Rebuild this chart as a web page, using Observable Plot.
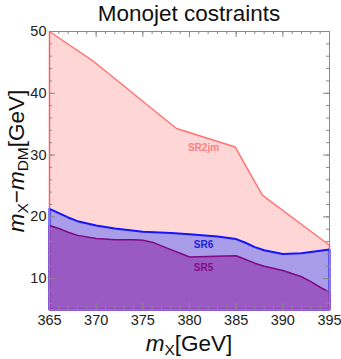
<!DOCTYPE html>
<html>
<head>
<meta charset="utf-8">
<script src="https://cdn.jsdelivr.net/npm/d3@7"></script>
<script src="https://cdn.jsdelivr.net/npm/@observablehq/plot@0.6"></script>
<style>
  html, body { margin: 0; padding: 0; background: #fff; }
  svg { display: block; }
</style>
</head>
<body>
<div id="chart"></div>
<script>
// ---- data ----
const sr2jmX = [365, 369.6, 378.6, 384.9, 387.8, 395];
const sr2jmY = [50, 45.3, 34.3, 31.3, 23.5, 15.4];

const sr6X = [365, 366, 367, 368, 370, 372, 375, 378, 380, 383, 385, 386, 387, 388, 390, 392, 395];
const sr6Y = [21.3, 20.6, 19.9, 19.3, 18.6, 18.1, 17.6, 17.4, 17.2, 16.8, 16.4, 15.8, 15.1, 14.6, 14.0, 14.1, 14.7];

const sr5X = [365, 366, 367, 368, 370, 372, 374, 375, 376, 377, 378, 379, 380, 383, 385, 386, 387, 388, 390, 392, 393, 394, 395];
const sr5Y = [18.6, 18.1, 17.5, 17.0, 16.5, 16.3, 16.3, 16.2, 15.9, 15.3, 14.7, 14.1, 13.5, 13.6, 13.7, 13.1, 12.5, 12.0, 11.3, 10.3, 9.5, 8.6, 7.8];

const regionLabels = ["SR2jm", "SR6", "SR5"];
const labelX = [381.5, 381.5, 381.5];
const labelY = [31.1, 15.4, 11.7];

const xDomain = [365, 395];
const yDomain = [5, 50];
const xMajor = [365, 370, 375, 380, 385, 390, 395];
const xMinor = d3.range(365, 396, 1);
const yMajor = [10, 20, 30, 40, 50];
const yMinor = d3.range(6, 51, 2);

const title = "Monojet costraints";

// ---- helpers ----
const pts = (xs, ys) => xs.map((x, i) => ({x, y: ys[i]}));
const closed = (xs, ys) => {
  const p = pts(xs, ys);
  return [{x: xs[0], y: yDomain[0]}, ...p, {x: xs[xs.length - 1], y: yDomain[0]}, {x: xs[0], y: yDomain[0]}];
};

const W = 341, H = 359;
const mT = 31, mR = 12, mB = 50, mL = 49;
const fh = H - mT - mB, fw = W - mL - mR;
const tickCol = "#8a8a8a";

const regions = [
  {xs: sr2jmX, ys: sr2jmY, fill: "#ffd6d6", stroke: "#ff7474", sw: 1.5},
  {xs: sr6X, ys: sr6Y, fill: "#a99ce8", stroke: "#1414ff", sw: 2},
  {xs: sr5X, ys: sr5Y, fill: "#9a5ac3", stroke: "#7f0a80", sw: 1.5}
];
const labelCols = ["#ff8080", "#1f1fe0", "#860a86"];

const marks = [];
for (const r of regions) {
  marks.push(Plot.areaY(pts(r.xs, r.ys), {x: "x", y1: yDomain[0], y2: "y", fill: r.fill}));
  marks.push(Plot.line(closed(r.xs, r.ys), {x: "x", y: "y", stroke: r.stroke, strokeWidth: r.sw, strokeLinejoin: "round"}));
}
marks.push(Plot.text(regionLabels.map((t, i) => ({t, x: labelX[i], y: labelY[i], c: labelCols[i]})),
  {x: "x", y: "y", text: "t", fill: "c", fontWeight: "bold", fontSize: 10}));

// ticks (inward, on all sides)
marks.push(Plot.tickX(xMinor, {x: d => d, insetTop: fh - 3, stroke: tickCol}));
marks.push(Plot.tickX(xMinor, {x: d => d, insetBottom: fh - 3, stroke: tickCol}));
marks.push(Plot.tickX(xMajor, {x: d => d, insetTop: fh - 6, stroke: tickCol}));
marks.push(Plot.tickX(xMajor, {x: d => d, insetBottom: fh - 6, stroke: tickCol}));
marks.push(Plot.tickY(yMinor, {y: d => d, insetRight: fw - 3, stroke: tickCol}));
marks.push(Plot.tickY(yMinor, {y: d => d, insetLeft: fw - 3, stroke: tickCol}));
marks.push(Plot.tickY(yMajor, {y: d => d, insetRight: fw - 6, stroke: tickCol}));
marks.push(Plot.tickY(yMajor, {y: d => d, insetLeft: fw - 6, stroke: tickCol}));
marks.push(Plot.frame({stroke: tickCol}));
marks.push(Plot.axisX(xMajor, {tickSize: 0, tickPadding: 5, fontSize: 14.5, label: null, fill: "#222"}));
marks.push(Plot.axisY(yMajor, {tickSize: 0, tickPadding: 3, fontSize: 14.5, label: null, fill: "#222"}));

const svg = Plot.plot({
  width: W, height: H,
  marginTop: mT, marginRight: mR, marginBottom: mB, marginLeft: mL,
  x: {domain: xDomain},
  y: {domain: yDomain},
  style: {fontFamily: "'Liberation Sans', Arial, sans-serif", background: "#fff"},
  marks
});

const s = d3.select(svg);
const ff = "'Liberation Sans', Arial, sans-serif";
s.append("text").attr("x", mL + fw / 2).attr("y", 20.5).attr("text-anchor", "middle")
  .attr("font-family", ff).attr("font-size", 22.5).attr("fill", "#111").text(title);

const xl = s.append("text").attr("x", mL + fw / 2).attr("y", 351).attr("text-anchor", "middle")
  .attr("font-family", ff).attr("font-size", 22.5).attr("fill", "#111");
xl.append("tspan").attr("font-style", "italic").text("m");
xl.append("tspan").attr("font-size", 15.5).attr("dy", 4).text("X");
xl.append("tspan").attr("dy", -4).text("[GeV]");

const yl = s.append("text").attr("transform", "translate(24,161) rotate(-90)").attr("text-anchor", "middle")
  .attr("font-family", ff).attr("font-size", 22.5).attr("fill", "#111");
yl.append("tspan").attr("font-style", "italic").text("m");
yl.append("tspan").attr("font-size", 15.5).attr("dy", 4).text("X");
yl.append("tspan").attr("dy", -4).text("\u2212");
yl.append("tspan").attr("font-style", "italic").text("m");
yl.append("tspan").attr("font-size", 15.5).attr("dy", 4).text("DM");
yl.append("tspan").attr("dy", -4).text("[GeV]");

document.getElementById("chart").appendChild(svg);
</script>
</body>
</html>
